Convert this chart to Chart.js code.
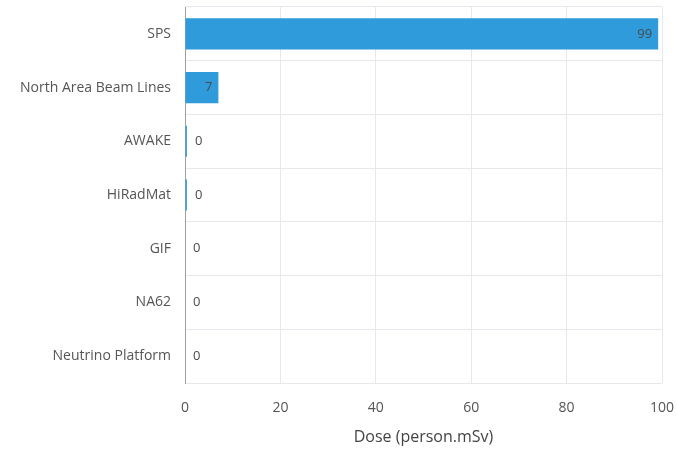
<!DOCTYPE html>
<html><head><meta charset="utf-8">
<script src="https://cdn.jsdelivr.net/npm/chart.js@4/dist/chart.umd.min.js"></script>
<style>html,body{margin:0;padding:0;background:#fff}#w{width:677px;height:449px}</style>
</head><body><div id="w"><canvas id="c"></canvas></div>
<script>
const categories = ["SPS","North Area Beam Lines","AWAKE","HiRadMat","GIF","NA62","Neutrino Platform"];
const doseValues = [99.2, 7, 0.4, 0.4, 0, 0, 0];
const xTicks = [0,20,40,60,80,100];
const axisTitle = "Dose (person.mSv)";
const FONT = "'Open Sans', sans-serif";

const labelPlugin = {
  id: 'vlabels',
  afterDatasetsDraw(chart) {
    const ctx = chart.ctx;
    const meta = chart.getDatasetMeta(0);
    ctx.save();
    ctx.font = "13px " + FONT;
    ctx.fillStyle = "#4a4a4a";
    ctx.textBaseline = "middle";
    meta.data.forEach((bar, i) => {
      const v = doseValues[i];
      const txt = String(Math.round(v));
      const w = ctx.measureText(txt).width;
      const len = bar.x - bar.base;
      if (len > w + 10) {
        ctx.textAlign = "right";
        ctx.fillText(txt, bar.x - 6, bar.y);
      } else {
        ctx.textAlign = "left";
        ctx.fillText(txt, Math.max(bar.x, bar.base) + 8, bar.y);
      }
    });
    ctx.restore();
  }
};

new Chart(document.getElementById('c'), {
  type: 'bar',
  data: { labels: categories, datasets: [{ data: doseValues, backgroundColor: '#2f9bdb', borderWidth: 0, categoryPercentage: 0.58, barPercentage: 1 }] },
  options: {
    indexAxis: 'y', responsive: true, maintainAspectRatio: false, animation: false,
    layout: { padding: { left: 0, right: 15, top: 7, bottom: 0 } },
    plugins: { legend: { display: false }, tooltip: { enabled: false } },
    scales: {
      x: {
        min: 0, max: 100,
        afterBuildTicks: (s) => { s.ticks = xTicks.map(v => ({ value: v })); },
        afterFit: (s) => { s.height = 66; s.paddingLeft = 0; s.paddingRight = 0; },
        grid: { color: '#e6e8ee', drawTicks: false },
        border: { display: false },
        ticks: { color: '#555', font: { family: FONT, size: 14 }, padding: 17 },
        title: { display: true, text: axisTitle, color: '#444', font: { family: FONT, size: 16 }, padding: { top: 4, bottom: 2 } }
      },
      y: {
        afterFit: (s) => { s.width = 185; s.paddingTop = 0; s.paddingBottom = 0; },
        grid: { offset: true, color: '#e6e8ee', drawTicks: false },
        border: { display: true, color: '#a0a0a0', width: 1 },
        ticks: { color: '#555', font: { family: FONT, size: 14 }, padding: 14 }
      }
    }
  },
  plugins: [labelPlugin]
});
</script></body></html>
